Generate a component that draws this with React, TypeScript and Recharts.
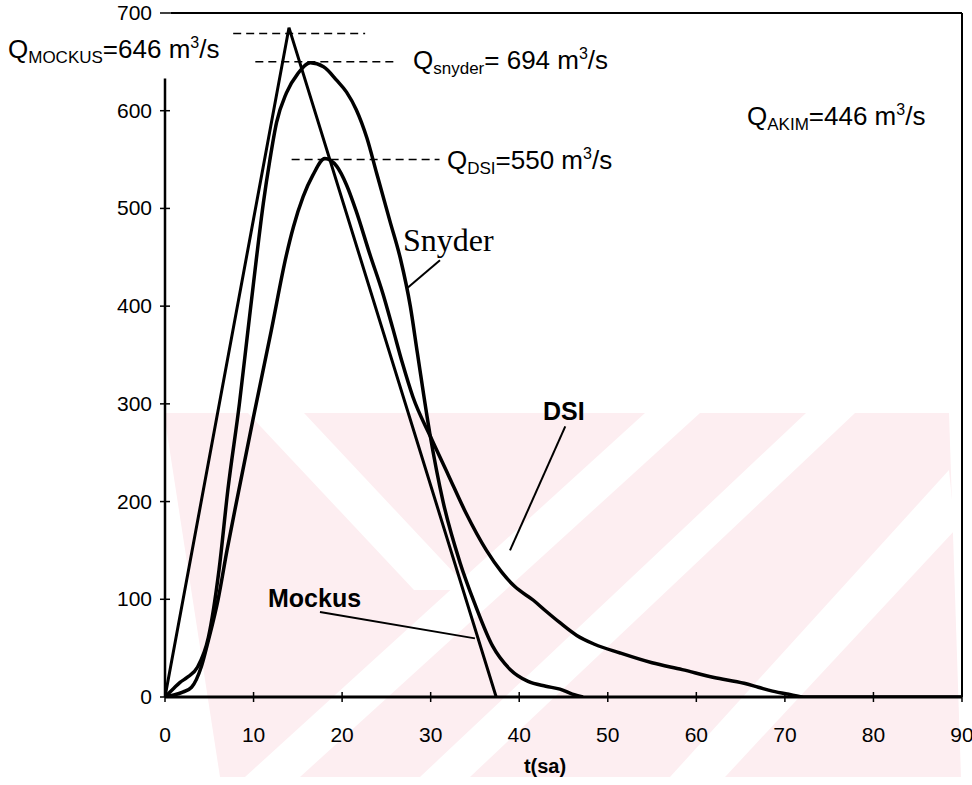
import React from "react";
import { LineChart, Line, XAxis, YAxis, ReferenceLine } from "recharts";

const xTicks = [0, 10, 20, 30, 40, 50, 60, 70, 80, 90];
const yTicks = [0, 100, 200, 300, 400, 500, 600, 700];

// Mockus triangular hydrograph
const mockusT = [0, 14, 37.4];
const mockusQ = [0, 685, 0];

// Snyder synthetic hydrograph
const snyderT = [0, 1, 1.7, 2.5, 3.7, 4.9, 6.1, 7.1, 8.4, 9.3, 10.3, 11.1, 11.85, 12.6, 13.7, 15, 16.4, 17.9, 19.4, 20.5, 21.6, 22.8, 23.9, 25.4, 26.6, 27.7, 28.5, 29.9, 31.4, 33.3, 35, 37, 39, 41, 43, 44.6, 46, 47.2];
const snyderQ = [0, 9, 15, 20, 31, 61, 130, 212, 300, 370, 447, 505, 550, 588, 618, 638, 649, 645, 631, 619, 601, 572, 536, 487, 448, 400, 352, 270, 200, 138, 95, 52, 28, 16, 11, 8, 3, 0];

// DSI synthetic hydrograph
const dsiT = [0, 1, 2, 3, 4.1, 4.9, 6, 7, 8.3, 10, 12, 13.7, 14.5, 15.6, 16.7, 18.05, 19.4, 20.5, 21.6, 23.1, 24.6, 25.7, 26.8, 28, 30, 32, 34, 36.3, 38, 39.5, 41.6, 43, 44.6, 46.5, 48.5, 51.4, 55, 58.4, 62, 65.4, 67, 68.6, 70.3, 72.4, 90];
const dsiQ = [0, 2, 5, 10, 31, 58, 100, 150, 210, 287, 375, 452, 481, 512, 534, 551, 543, 524, 497, 454, 413, 378, 342, 307, 266, 227, 188, 150, 128, 113, 99, 88, 76, 63, 54, 45, 35, 28, 20, 14, 10, 6, 3, 0, 0];

// dashed peak markers: [xStart, xEnd, q]
const mockusPeakLine = [7.7, 22.6, 679];
const snyderPeakLine = [10.2, 26.3, 650];
const dsiPeakLine = [14.3, 31, 550];

// label pointers: [x1, q1, x2, q2]
const snyderPointer = [31.05, 447, 27.3, 418];
const dsiPointer = [45.2, 277, 38.96, 150];
const mockusPointer = [17.5, 87, 35.0, 60];

const toData = (t: number[], q: number[]) => t.map((v, i) => ({ t: v, q: q[i] }));
const mockusData = toData(mockusT, mockusQ);
const snyderData = toData(snyderT, snyderQ);
const dsiData = toData(dsiT, dsiQ);

const SANS = "'Liberation Sans', Arial, sans-serif";
const SERIF = "'Liberation Serif', 'Times New Roman', serif";

const YTick = (props: any) => {
  const { x, y, payload } = props;
  return (
    <g>
      <line x1={x + 14 - 5} x2={x + 14 + 5} y1={y} y2={y} stroke="#000" strokeWidth={1.5} />
      <text x={x + 1} y={y} dy={7} textAnchor="end" fontSize={21} fontFamily={SANS} fill="#000">
        {payload.value}
      </text>
    </g>
  );
};

const XTick = (props: any) => {
  const { x, y, payload } = props;
  return (
    <g>
      <line x1={x} x2={x} y1={y - 30 - 5} y2={y - 30 + 5} stroke="#000" strokeWidth={1.5} />
      <text x={x} y={y} dy={15} textAnchor="middle" fontSize={21} fontFamily={SANS} fill="#000">
        {payload.value}
      </text>
    </g>
  );
};

const QLabel = ({ x, y, sub, rest, tail = "/s" }: { x: number; y: number; sub: string; rest: string; tail?: string }) => (
  <text x={x} y={y} fontSize={26} fontFamily={SANS} fill="#000">
    Q
    <tspan fontSize={17} dy={5}>{sub}</tspan>
    <tspan dy={-5}>{rest}</tspan>
    <tspan fontSize={16} dy={-10}>3</tspan>
    <tspan dy={10}>{tail}</tspan>
  </text>
);

const seg = (a: number[]) => [
  { x: a[0], y: a[1] },
  { x: a[2], y: a[3] },
];
const hseg = (a: number[]) => [
  { x: a[0], y: a[2] },
  { x: a[1], y: a[2] },
];

export default function App() {
  return (
    <div style={{ position: "absolute", left: 0, top: 0, width: 972, height: 785, background: "#fff" }}>
      <svg width={972} height={785} style={{ position: "absolute", left: 0, top: 0 }}>
        <polygon points="164,413 949,413 961,777 220,777" fill="#fdeef1" />
        <polygon points="248,413 304,413 470,590 414,590" fill="#fff" />
        <polygon points="645,413 700,413 300,777 245,777" fill="#fff" />
        <polygon points="806,413 855,413 470,777 420,777" fill="#fff" />
        <polygon points="949,470 955,530 725,777 670,777" fill="#fff" />
      </svg>
      <div style={{ position: "absolute", left: 0, top: 0 }}>
        <LineChart width={972} height={785} margin={{ top: 13, right: 10, bottom: 58, left: 105 }}>
          <XAxis
            type="number"
            dataKey="t"
            domain={[0, 90]}
            ticks={xTicks}
            height={30}
            tickSize={0}
            tickMargin={30}
            tick={<XTick />}
            axisLine={{ stroke: "#000", strokeWidth: 3 }}
            tickLine={false}
            allowDataOverflow
          />
          <YAxis
            type="number"
            dataKey="q"
            domain={[0, 700]}
            ticks={yTicks}
            width={60}
            tickSize={0}
            tickMargin={14}
            tick={<YTick />}
            axisLine={false}
            tickLine={false}
            allowDataOverflow
          />
          <ReferenceLine segment={[{ x: 0, y: 0 }, { x: 0, y: 633 }]} stroke="#000" strokeWidth={2.5} />
          <ReferenceLine segment={[{ x: 0.6, y: 700 }, { x: 90, y: 700 }]} stroke="#000" strokeWidth={2} />
          <ReferenceLine segment={[{ x: 90, y: 0 }, { x: 90, y: 700 }]} stroke="#000" strokeWidth={2} />

          <ReferenceLine segment={hseg(mockusPeakLine)} stroke="#000" strokeWidth={1.5} strokeDasharray="8 5" />
          <ReferenceLine segment={hseg(snyderPeakLine)} stroke="#000" strokeWidth={1.5} strokeDasharray="8 5" />
          <ReferenceLine segment={hseg(dsiPeakLine)} stroke="#000" strokeWidth={1.5} strokeDasharray="8 5" />

          <ReferenceLine segment={seg(snyderPointer)} stroke="#000" strokeWidth={2} />
          <ReferenceLine segment={seg(dsiPointer)} stroke="#000" strokeWidth={2} />
          <ReferenceLine segment={seg(mockusPointer)} stroke="#000" strokeWidth={2} />

          <Line data={mockusData} dataKey="q" type="linear" stroke="#000" strokeWidth={3} dot={false} isAnimationActive={false} />
          <Line data={snyderData} dataKey="q" type="monotone" stroke="#000" strokeWidth={3.5} dot={false} isAnimationActive={false} />
          <Line data={dsiData} dataKey="q" type="monotone" stroke="#000" strokeWidth={3.5} dot={false} isAnimationActive={false} />
        </LineChart>
      </div>
      <svg width={972} height={785} style={{ position: "absolute", left: 0, top: 0, pointerEvents: "none" }}>
        <QLabel x={8} y={58} sub="MOCKUS" rest="=646 m" />
        <QLabel x={413} y={69} sub="snyder" rest="= 694 m" />
        <QLabel x={447} y={169} sub="DSI" rest="=550 m" />
        <QLabel x={747} y={125} sub="AKIM" rest="=446 m" />
        <text x={403} y={251} fontSize={32} fontFamily={SERIF} fill="#000">Snyder</text>
        <text x={543} y={420} fontSize={25} fontWeight="bold" fontFamily={SANS} fill="#000">DSI</text>
        <text x={268} y={607} fontSize={25} fontWeight="bold" fontFamily={SANS} fill="#000">Mockus</text>
        <text x={545} y={773} fontSize={20} fontWeight="bold" textAnchor="middle" fontFamily={SANS} fill="#000">t(sa)</text>
      </svg>
    </div>
  );
}
